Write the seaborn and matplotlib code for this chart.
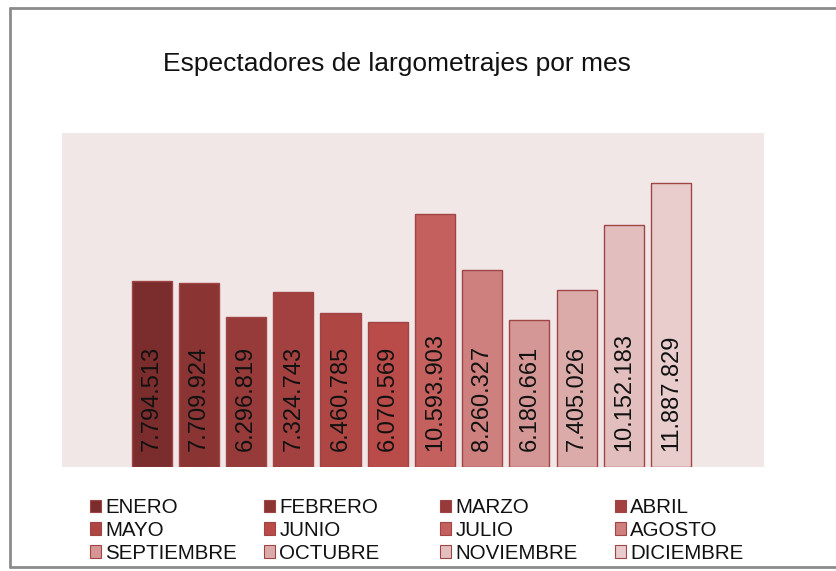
import matplotlib
matplotlib.use("Agg")
import matplotlib.pyplot as plt
from matplotlib.lines import Line2D
from matplotlib.patches import Patch
import seaborn as sns
import pandas as pd

# datos
meses = ['ENERO', 'FEBRERO', 'MARZO', 'ABRIL', 'MAYO', 'JUNIO', 'JULIO',
         'AGOSTO', 'SEPTIEMBRE', 'OCTUBRE', 'NOVIEMBRE', 'DICIEMBRE']
espectadores = [7794513, 7709924, 6296819, 7324743, 6460785, 6070569,
                10593903, 8260327, 6180661, 7405026, 10152183, 11887829]
colores = ['#7B2C2C', '#8A3434', '#973B3A', '#A34140', '#AE4644', '#B94B48',
           '#C4605D', '#CE807E', '#D49795', '#DBABAA', '#E2BFBE', '#E9CDCD']

df = pd.DataFrame({'mes': meses, 'espectadores': espectadores})

sns.set_style('white')
plt.rcParams['font.family'] = ['Liberation Sans', 'DejaVu Sans']

W, H = 837, 571
fig = plt.figure(figsize=(W / 100, H / 100), dpi=100)
ax = fig.add_axes([62 / W, 1 - 467 / H, (764 - 62) / W, (467 - 133) / H])

sns.barplot(data=df, x='mes', y='espectadores', hue='mes', palette=colores,
            saturation=1, dodge=False, width=0.85, legend=False, ax=ax,
            edgecolor='#A04545', linewidth=1)

ax.set_facecolor('#F2E7E7')
ax.set_xlim(-1.9, 12.97)
ax.set_ylim(0, 14000000)
for s in ax.spines.values():
    s.set_visible(False)
ax.set_xticks([])
ax.set_yticks([])
ax.set_xlabel('')
ax.set_ylabel('')

# etiquetas de valor
for i, v in enumerate(espectadores):
    txt = f'{v:,}'.replace(',', '.')
    ax.text(i, 650000, txt, rotation=90, ha='center', va='bottom',
            fontsize=17, color='#111111')

fig.text(397 / W, 1 - 64 / H, 'Espectadores de largometrajes por mes',
         ha='center', va='center', fontsize=19, color='#111111')

# leyenda en 4 columnas, por filas
col_x = [90, 264, 440, 615]
for c in range(4):
    idx = [c, c + 4, c + 8]
    handles = [Patch(facecolor=colores[k], edgecolor='#A04545', linewidth=0.8) for k in idx]
    fig.legend(handles, [meses[k] for k in idx], loc='upper left',
               bbox_to_anchor=(col_x[c] / W, 1 - 498 / H), frameon=False,
               fontsize=14.8, handlelength=0.55, handleheight=0.55,
               handletextpad=0.2, labelspacing=0.19, borderpad=0,
               borderaxespad=0, labelcolor='#111111')

# marco
kw = dict(color='#8C8C8C', linewidth=2, transform=fig.transFigure)
fig.add_artist(Line2D([10 / W, 10 / W], [1 - 8 / H, 1 - 567 / H], **kw))
fig.add_artist(Line2D([10 / W, 1], [1 - 8 / H, 1 - 8 / H], **kw))
fig.add_artist(Line2D([10 / W, 1], [1 - 567 / H, 1 - 567 / H], **kw))

fig.savefig('out.png', dpi=100)
